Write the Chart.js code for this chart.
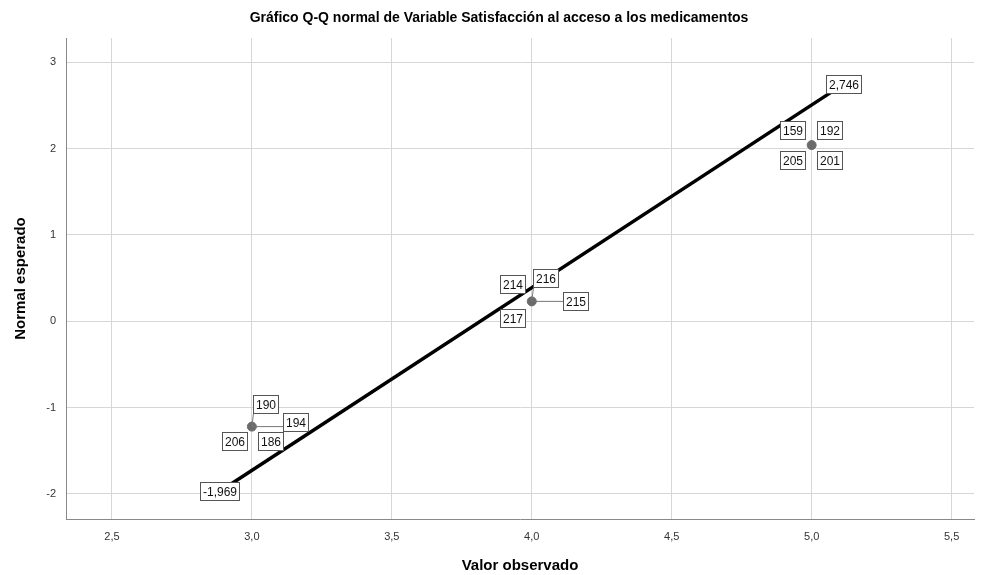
<!DOCTYPE html>
<html>
<head>
<meta charset="utf-8">
<title>Gráfico Q-Q normal</title>
<script src="https://cdn.jsdelivr.net/npm/chart.js@4/dist/chart.umd.min.js"></script>
<style>
  html, body { margin: 0; padding: 0; background: #ffffff; }
  #qqChart { display: block; }
</style>
</head>
<body>
<canvas id="qqChart" width="987" height="575"></canvas>
<script>
// observed values and their expected normal scores
const observedValues = [3, 4, 5];
const expectedNormal = [-1.22, 0.23, 2.04];

// case numbers shown next to each point
const caseLabels = [
  ["190", "194", "206", "186"],
  ["214", "216", "215", "217"],
  ["159", "192", "205", "201"]
];

// reference line ends
const lineX = [2.886, 5.114];
const lineY = [-1.969, 2.746];
const lineEndLabels = ["-1,969", "2,746"];

const xTickValues = [2.5, 3.0, 3.5, 4.0, 4.5, 5.0, 5.5];
const yTickValues = [-2, -1, 0, 1, 2, 3];

const chartTitle = "Gráfico Q-Q normal de Variable Satisfacción al acceso a los medicamentos";
const xTitle = "Valor observado";
const yTitle = "Normal esperado";

const FONT = "'Liberation Sans', Arial, sans-serif";

// where each case box sits around its point: [dx, dy, leader line]
const caseLayout = [
  [[14, -23, true], [44, -5, true], [-17, 14, false], [19, 14, false]],
  [[-19, -17, false], [14, -23, true], [44, 0, true], [-19, 17, false]],
  [[-19, -15, false], [18, -15, false], [-19, 15, false], [18, 15, false]]
];

function drawBox(ctx, text, cx, cy, fromPoint) {
  ctx.font = "12px " + FONT;
  const w = Math.round(ctx.measureText(text).width) + 5;
  const h = 18;
  const left = Math.round(cx - w / 2) + 0.5;
  const top = Math.round(cy - h / 2) + 0.5;

  if (fromPoint) {
    const tx = Math.min(Math.max(fromPoint.x, left), left + w);
    const ty = Math.min(Math.max(fromPoint.y, top), top + h);
    ctx.strokeStyle = "#777777";
    ctx.lineWidth = 1;
    ctx.beginPath();
    ctx.moveTo(fromPoint.x, fromPoint.y);
    ctx.lineTo(tx, ty);
    ctx.stroke();
  }

  ctx.fillStyle = "#ffffff";
  ctx.fillRect(left, top, w, h);
  ctx.strokeStyle = "#555555";
  ctx.lineWidth = 1;
  ctx.strokeRect(left, top, w, h);
  ctx.fillStyle = "#111111";
  ctx.textAlign = "center";
  ctx.textBaseline = "middle";
  ctx.fillText(text, left + w / 2, top + h / 2 + 1);
}

const caseLabelPlugin = {
  id: "caseLabels",
  afterDatasetsDraw(chart) {
    const ctx = chart.ctx;
    const xs = chart.scales.x;
    const ys = chart.scales.y;
    ctx.save();

    observedValues.forEach((xv, i) => {
      const px = xs.getPixelForValue(xv);
      const py = ys.getPixelForValue(expectedNormal[i]);
      caseLabels[i].forEach((label, j) => {
        const [dx, dy, leader] = caseLayout[i][j];
        drawBox(ctx, label, px + dx, py + dy, leader ? { x: px, y: py } : null);
      });
    });

    lineX.forEach((xv, i) => {
      drawBox(ctx, lineEndLabels[i], xs.getPixelForValue(xv), ys.getPixelForValue(lineY[i]), null);
    });

    ctx.restore();
  }
};

const titlePlugin = {
  id: "topTitle",
  afterDraw(chart) {
    const ctx = chart.ctx;
    ctx.save();
    ctx.font = "bold 14px " + FONT;
    ctx.fillStyle = "#000000";
    ctx.textAlign = "center";
    ctx.textBaseline = "middle";
    ctx.fillText(chartTitle, 499, 18);
    ctx.restore();
  }
};

new Chart(document.getElementById("qqChart"), {
  type: "scatter",
  data: {
    datasets: [
      {
        label: "Línea",
        data: lineX.map((x, i) => ({ x, y: lineY[i] })),
        showLine: true,
        borderColor: "#000000",
        borderWidth: 3.5,
        pointRadius: 0,
        order: 2
      },
      {
        label: "Observado",
        data: observedValues.map((x, i) => ({ x, y: expectedNormal[i] })),
        pointRadius: 4.5,
        pointBackgroundColor: "#6a6a6a",
        pointBorderColor: "#6a6a6a",
        order: 1
      }
    ]
  },
  options: {
    responsive: false,
    devicePixelRatio: 1,
    animation: false,
    layout: { padding: { top: 38, right: 13, left: 0, bottom: 0 } },
    plugins: {
      legend: { display: false },
      tooltip: { enabled: false }
    },
    scales: {
      x: {
        type: "linear",
        min: 2.336,
        max: 5.58,
        afterBuildTicks: (scale) => {
          scale.ticks = xTickValues.map((value) => ({ value }));
        },
        afterFit: (scale) => {
          scale.height = 56;
        },
        grid: { color: "#d6d6d6", lineWidth: 1, drawTicks: false },
        border: { color: "#888888", width: 1 },
        ticks: {
          padding: 11,
          color: "#333333",
          font: { family: FONT, size: 11 },
          callback: (v) => Number(v).toFixed(1).replace(".", ",")
        },
        title: {
          display: true,
          text: xTitle,
          color: "#000000",
          font: { family: FONT, size: 15, weight: "bold" },
          padding: { top: 8, bottom: 0 }
        }
      },
      y: {
        type: "linear",
        min: -2.29,
        max: 3.28,
        afterBuildTicks: (scale) => {
          scale.ticks = yTickValues.map((value) => ({ value }));
        },
        afterFit: (scale) => {
          scale.width = 66;
        },
        grid: { color: "#d6d6d6", lineWidth: 1, drawTicks: false },
        border: { color: "#888888", width: 1 },
        ticks: {
          padding: 10,
          color: "#333333",
          font: { family: FONT, size: 11 },
          callback: (v) => String(v)
        },
        title: {
          display: true,
          text: yTitle,
          color: "#000000",
          font: { family: FONT, size: 15, weight: "bold" },
          padding: { top: 12, bottom: 0 }
        }
      }
    }
  },
  plugins: [caseLabelPlugin, titlePlugin]
});
</script>
</body>
</html>
